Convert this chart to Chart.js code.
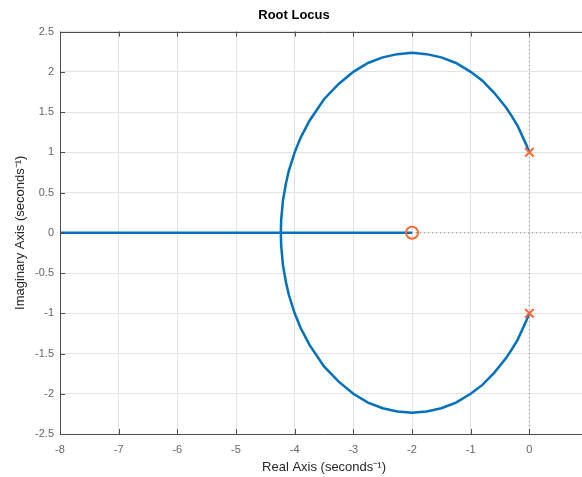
<!DOCTYPE html>
<html>
<head>
<meta charset="utf-8">
<script src="https://cdn.jsdelivr.net/npm/chart.js@4/dist/chart.umd.min.js"></script>
<style>
  html, body { margin: 0; padding: 0; overflow: hidden; background: #fff; }
  #wrap { width: 600px; height: 477px; }
</style>
</head>
<body>
<div id="wrap"><canvas id="chart1"></canvas></div>
<script>
// valores
var realX = [-8, -2];
var realY = [0, 0];

var upperX = [0, -0.05, -0.1, -0.2, -0.3, -0.4, -0.6, -0.8, -1.0, -1.25, -1.5, -1.75, -2.0, -2.25, -2.5, -2.75, -3.0, -3.25, -3.5, -3.75, -3.9, -4.0, -4.1, -4.15, -4.2, -4.23, -4.236];
var upperY = [1.0, 1.09, 1.17, 1.33, 1.45, 1.56, 1.74, 1.89, 2.0, 2.11, 2.18, 2.22, 2.236, 2.22, 2.18, 2.11, 2.0, 1.85, 1.66, 1.39, 1.18, 1.0, 0.77, 0.61, 0.4, 0.16, 0];

var lowerX = [0, -0.05, -0.1, -0.2, -0.3, -0.4, -0.6, -0.8, -1.0, -1.25, -1.5, -1.75, -2.0, -2.25, -2.5, -2.75, -3.0, -3.25, -3.5, -3.75, -3.9, -4.0, -4.1, -4.15, -4.2, -4.23, -4.236];
var lowerY = [-1.0, -1.09, -1.17, -1.33, -1.45, -1.56, -1.74, -1.89, -2.0, -2.11, -2.18, -2.22, -2.236, -2.22, -2.18, -2.11, -2.0, -1.85, -1.66, -1.39, -1.18, -1.0, -0.77, -0.61, -0.4, -0.16, 0];

var zerosX = [-2];
var zerosY = [0];
var polesX = [0, 0];
var polesY = [1, -1];

var xTicks = [-8, -7, -6, -5, -4, -3, -2, -1, 0];
var yTicks = [-2.5, -2, -1.5, -1, -0.5, 0, 0.5, 1, 1.5, 2, 2.5];

function pts(xs, ys) {
  return xs.map(function (x, i) { return { x: x, y: ys[i] }; });
}

var blue = '#0072BD';
var orange = '#FF6A33';
var fontFam = 'Liberation Sans, Arial, sans-serif';

// caixa e marcas internas estilo MATLAB
var boxPlugin = {
  id: 'box',
  afterDraw: function (chart) {
    var ctx = chart.ctx, a = chart.chartArea;
    var xs = chart.scales.x, ys = chart.scales.y;
    ctx.save();
    ctx.strokeStyle = '#4d4d4d';
    ctx.lineWidth = 1;
    ctx.beginPath();
    ctx.rect(Math.round(a.left) + 0.5, Math.round(a.top) + 0.5, Math.round(a.right - a.left), Math.round(a.bottom - a.top));
    xTicks.forEach(function (t) {
      var px = Math.round(xs.getPixelForValue(t)) + 0.5;
      ctx.moveTo(px, a.bottom); ctx.lineTo(px, a.bottom - 5);
      ctx.moveTo(px, a.top); ctx.lineTo(px, a.top + 5);
    });
    yTicks.forEach(function (t) {
      var py = Math.round(ys.getPixelForValue(t)) + 0.5;
      ctx.moveTo(a.left, py); ctx.lineTo(a.left + 5, py);
      ctx.moveTo(a.right, py); ctx.lineTo(a.right - 5, py);
    });
    ctx.stroke();
    ctx.restore();
  }
};

var ctx1 = document.getElementById('chart1').getContext('2d');
var chart1 = new Chart(ctx1, {
  type: 'scatter',
  data: {
    datasets: [
      {
        data: pts([0, 0], [-2.5, 2.5]), showLine: true, borderColor: '#8c8c8c',
        borderWidth: 1, borderDash: [1, 3], pointRadius: 0, order: 5
      },
      {
        data: pts([-8, 1], [0, 0]), showLine: true, borderColor: '#8c8c8c',
        borderWidth: 1, borderDash: [1, 3], pointRadius: 0, order: 5
      },
      {
        data: pts(realX, realY), showLine: true, borderColor: blue,
        borderWidth: 2.5, pointRadius: 0, order: 2
      },
      {
        data: pts(upperX, upperY), showLine: true, borderColor: blue,
        borderWidth: 2.5, pointRadius: 0, order: 2
      },
      {
        data: pts(lowerX, lowerY), showLine: true, borderColor: blue,
        borderWidth: 2.5, pointRadius: 0, order: 2
      },
      {
        data: pts(zerosX, zerosY), pointStyle: 'circle', pointRadius: 6,
        borderColor: orange, backgroundColor: 'rgba(0,0,0,0)', pointBorderWidth: 2, order: 0
      },
      {
        data: pts(polesX, polesY), pointStyle: 'crossRot', pointRadius: 6,
        borderColor: orange, pointBorderWidth: 2, order: 0
      }
    ]
  },
  options: {
    responsive: true,
    maintainAspectRatio: false,
    animation: false,
    layout: { padding: { left: 0, right: 12, top: 0, bottom: 0 } },
    plugins: {
      legend: { display: false },
      tooltip: { enabled: false },
      title: {
        display: true,
        text: 'Root Locus',
        color: '#000',
        font: { family: fontFam, size: 13, weight: 'bold' },
        padding: { top: 8, bottom: 8 }
      }
    },
    scales: {
      x: {
        type: 'linear',
        min: -8, max: 1,
        afterFit: function (s) { s.height = 43; },
        afterBuildTicks: function (s) { s.ticks = xTicks.map(function (v) { return { value: v }; }); },
        grid: { color: '#e3e3e3', drawTicks: false },
        border: { display: false },
        ticks: {
          color: '#666666', padding: 9,
          font: { family: fontFam, size: 11 },
          callback: function (v) { return String(v); }
        },
        title: {
          display: true, text: 'Real Axis (seconds\u207B\u00B9)', color: '#262626',
          font: { family: fontFam, size: 13 },
          padding: { top: 3, bottom: 2 }
        }
      },
      y: {
        type: 'linear',
        min: -2.5, max: 2.5,
        afterFit: function (s) { s.width = 60; },
        afterBuildTicks: function (s) { s.ticks = yTicks.map(function (v) { return { value: v }; }); },
        grid: { color: '#e3e3e3', drawTicks: false },
        border: { display: false },
        ticks: {
          color: '#666666', padding: 6,
          font: { family: fontFam, size: 11 },
          callback: function (v) { return String(v); }
        },
        title: {
          display: true, text: 'Imaginary Axis (seconds\u207B\u00B9)', color: '#262626',
          font: { family: fontFam, size: 13 },
          padding: { top: 13, bottom: 0 }
        }
      }
    }
  },
  plugins: [boxPlugin]
});
</script>
</body>
</html>
